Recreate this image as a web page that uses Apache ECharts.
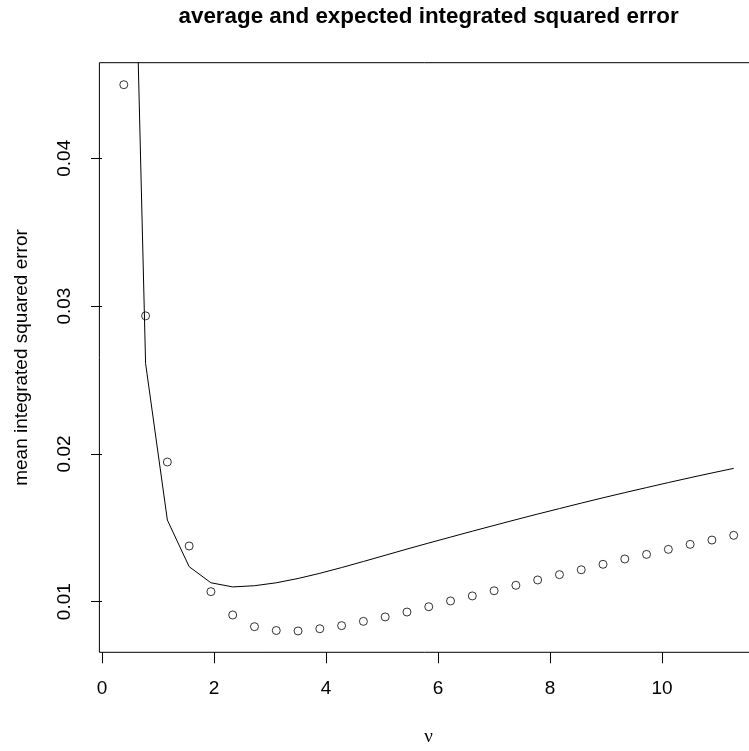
<!DOCTYPE html>
<html>
<head>
<meta charset="utf-8">
<script src="https://cdn.jsdelivr.net/npm/echarts@6/dist/echarts.min.js"></script>
<style>
html,body{margin:0;padding:0;background:#fff;}
#chart{width:749px;height:751px;}
</style>
</head>
<body>
<div id="chart"></div>
<script>
// ---- data ----
const nu = [0.389, 0.778, 1.167, 1.556, 1.945, 2.334, 2.723, 3.112, 3.501, 3.890,
            4.279, 4.668, 5.057, 5.446, 5.835, 6.224, 6.613, 7.002, 7.391, 7.780,
            8.169, 8.558, 8.947, 9.336, 9.725, 10.114, 10.503, 10.892, 11.281];
const averageISE = [0.04498, 0.02934, 0.01945, 0.01377, 0.01068, 0.00910, 0.00831, 0.00805, 0.00802, 0.00817,
                    0.00838, 0.00867, 0.00897, 0.00930, 0.00966, 0.01005, 0.01039, 0.01074, 0.01111, 0.01147,
                    0.01183, 0.01216, 0.01253, 0.01289, 0.01320, 0.01354, 0.01388, 0.01417, 0.01449];
const expectedISE = [0.0866, 0.02612, 0.01552, 0.01237, 0.01128, 0.01100, 0.01108, 0.01128, 0.01157, 0.01192,
                     0.01231, 0.01272, 0.01314, 0.01356, 0.01397, 0.01437, 0.01477, 0.01516, 0.01555, 0.01593,
                     0.01630, 0.01667, 0.01703, 0.01738, 0.01772, 0.01806, 0.01839, 0.01871, 0.01902];
const xTicks = [0, 2, 4, 6, 8, 10];
const yTicks = [0.01, 0.02, 0.03, 0.04];
const titleText = 'average and expected integrated squared error';
const xName = 'ν';
const yName = 'mean integrated squared error';

const pointData = nu.map((x, i) => [x, averageISE[i]]);
const lineData = nu.map((x, i) => [x, expectedISE[i]]);

const gridLeft = 99.4, gridTop = 62.7, gridW = 658.7, gridH = 589.6;
const FONT = 'Liberation Sans, Arial, Helvetica, sans-serif';

const chart = echarts.init(document.getElementById('chart'), null, {renderer: 'canvas'});
chart.setOption({
  animation: false,
  backgroundColor: '#ffffff',
  grid: {
    left: gridLeft, top: gridTop, width: gridW, height: gridH,
    outerBoundsMode: 'none', containLabel: false,
    show: true, borderColor: '#000', borderWidth: 1, backgroundColor: 'transparent'
  },
  xAxis: {
    type: 'value', min: -0.0467, max: 11.7167,
    axisLine: {show: false},
    splitLine: {show: false},
    axisTick: {show: true, customValues: xTicks, length: 11, lineStyle: {color: '#000', width: 1}},
    axisLabel: {show: true, customValues: xTicks, margin: 27, color: '#000', fontSize: 19, fontFamily: FONT,
                formatter: v => String(v)}
  },
  yAxis: {
    type: 'value', min: 0.006576, max: 0.046468,
    axisLine: {show: false},
    splitLine: {show: false},
    axisTick: {show: true, customValues: yTicks, length: 11, lineStyle: {color: '#000', width: 1}},
    axisLabel: {show: true, customValues: yTicks, rotate: 90, margin: 25, color: '#000', fontSize: 19, fontFamily: FONT,
                formatter: v => v.toFixed(2)}
  },
  graphic: [
    {type: 'text', x: 428.6, y: 17, style: {text: titleText, font: 'bold 22.4px ' + FONT, fill: '#000', align: 'center', verticalAlign: 'middle'}},
    {type: 'text', x: 428.6, y: 737, style: {text: xName, font: '19px Liberation Serif, DejaVu Serif, serif', fill: '#000', align: 'center', verticalAlign: 'middle'}},
    {type: 'text', x: 21.7, y: 357.5, rotation: Math.PI / 2, style: {text: yName, font: '19px ' + FONT, fill: '#000', align: 'center', verticalAlign: 'middle'}}
  ],
  series: [
    {
      type: 'scatter', data: pointData, symbol: 'circle', symbolSize: 8,
      itemStyle: {color: 'rgba(0,0,0,0)', borderColor: '#000', borderWidth: 1},
      clip: true, z: 3
    },
    {
      type: 'line', data: lineData, showSymbol: false, symbol: 'none',
      lineStyle: {color: '#000', width: 1}, clip: true, z: 2
    }
  ]
});
</script>
</body>
</html>
